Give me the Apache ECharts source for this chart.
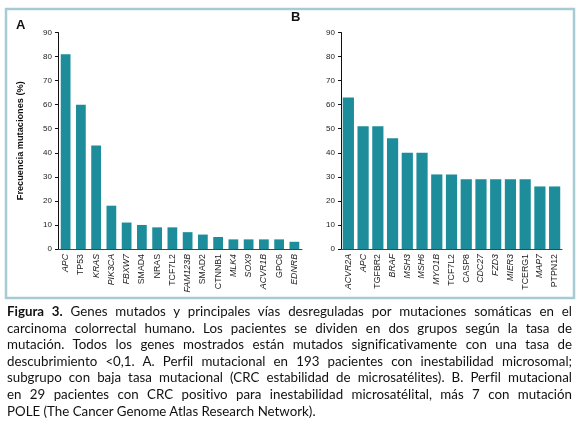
<!DOCTYPE html>
<html>
<head>
<meta charset="utf-8">
<script src="https://cdn.jsdelivr.net/npm/echarts@6/dist/echarts.min.js"></script>
<style>
  html, body { margin: 0; padding: 0; background: #fff; }
  #wrap { position: relative; width: 580px; height: 445px; }
  #chart { position: absolute; left: 0; top: 0; width: 580px; height: 445px; }
  #caption { position: absolute; left: 7px; top: 303px; width: 565px; font-family: Lato, "Open Sans", sans-serif; font-size: 13.3px; line-height: 16.6px; color: #111; font-variant-ligatures: none; }
  #caption div { text-align: justify; text-align-last: justify; white-space: nowrap; }
  #caption div.last { text-align-last: left; }
</style>
</head>
<body>
<div id="wrap">
  <div id="chart"></div>
  <div id="caption">
    <div><b>Figura 3.</b> Genes mutados y principales vías desreguladas por mutaciones somáticas en el</div>
    <div>carcinoma colorrectal humano. Los pacientes se dividen en dos grupos según la tasa de</div>
    <div>mutación. Todos los genes mostrados están mutados significativamente con una tasa de</div>
    <div>descubrimiento &lt;0,1. A. Perfil mutacional en 193 pacientes con inestabilidad microsomal;</div>
    <div>subgrupo con baja tasa mutacional (CRC estabilidad de microsatélites). B. Perfil mutacional</div>
    <div>en 29 pacientes con CRC positivo para inestabilidad microsatélital, más 7 con mutación</div>
    <div class="last">POLE (The Cancer Genome Atlas Research Network).</div>
  </div>
</div>
<script>
const genesA = ['APC','TP53','KRAS','PIK3CA','FBXW7','SMAD4','NRAS','TCF7L2','FAM123B','SMAD2','CTNNB1','MLK4','SOX9','ACVR1B','GPC6','EDNRB'];
const valuesA = [81, 60, 43, 18, 11, 10, 9, 9, 7, 6, 5, 4, 4, 4, 4, 3];
const genesB = ['ACVR2A','APC','TGFBR2','BRAF','MSH3','MSH6','MYO1B','TCF7L2','CASP8','CDC27','FZD3','MIER3','TCERG1','MAP7','PTPN12'];
const valuesB = [63, 51, 51, 46, 40, 40, 31, 31, 29, 29, 29, 29, 29, 26, 26];
const yTicks = [0, 10, 20, 30, 40, 50, 60, 70, 80, 90];
const yTitle = 'Frecuencia mutaciones (%)';
const panelLabels = ['A', 'B'];
const italicA = ['APC','KRAS','PIK3CA','FBXW7','FAM123B','MLK4','SOX9','ACVR1B','EDNRB'];
const italicB = ['ACVR2A','APC','BRAF','MSH3','MSH6','MYO1B','CDC27','FZD3','MIER3','MAP7'];

const barColor = '#1d8d9b';
const font = '"Liberation Sans", Arial, sans-serif';

function xAxis(idx, cats, italics) {
  return {
    type: 'category', gridIndex: idx, data: cats,
    axisLine: { lineStyle: { color: '#444', width: 1 } },
    axisTick: { show: false },
    axisLabel: {
      rotate: 90, margin: 5, interval: 0, color: '#222', fontFamily: font, fontSize: 8.8,
      formatter: v => (italics.indexOf(v) >= 0 ? '{i|' + v + '}' : '{n|' + v + '}'),
      rich: {
        i: { fontStyle: 'italic', fontSize: 8.8, fontFamily: font, color: '#222' },
        n: { fontStyle: 'normal', fontSize: 8.8, fontFamily: font, color: '#222' }
      }
    }
  };
}
function yAxis(idx, name) {
  return {
    type: 'value', gridIndex: idx, min: yTicks[0], max: yTicks[yTicks.length - 1], interval: 10,
    name: name, nameLocation: 'middle', nameGap: 33,
    nameTextStyle: { fontWeight: 'bold', fontSize: 9.2, fontFamily: font, color: '#111' },
    axisLine: { show: true, lineStyle: { color: '#111', width: 1 } },
    axisTick: { show: true, length: 3, lineStyle: { color: '#111' } },
    splitLine: { show: false },
    axisLabel: { color: '#222', fontFamily: font, fontSize: 8, margin: 6 }
  };
}

const chart = echarts.init(document.getElementById('chart'), null, { renderer: 'canvas' });
chart.setOption({
  animation: false,
  backgroundColor: '#fff',
  grid: [
    { left: 58, top: 32.5, width: 244, height: 216.5 },
    { left: 341, top: 32.5, width: 221, height: 216.5 }
  ],
  xAxis: [xAxis(0, genesA, italicA), xAxis(1, genesB, italicB)],
  yAxis: [yAxis(0, yTitle), yAxis(1, '')],
  series: [
    { type: 'bar', xAxisIndex: 0, yAxisIndex: 0, data: valuesA, barCategoryGap: '36%', itemStyle: { color: barColor } },
    { type: 'bar', xAxisIndex: 1, yAxisIndex: 1, data: valuesB, barCategoryGap: '24%', itemStyle: { color: barColor } }
  ],
  graphic: [
    { type: 'rect', shape: { x: 6, y: 9, width: 568, height: 289 }, style: { fill: 'none', stroke: '#a7cbd3', lineWidth: 2.5 }, silent: true },
    { type: 'text', left: 16, top: 19, style: { text: panelLabels[0], font: 'bold 13px ' + font, fill: '#111' } },
    { type: 'text', left: 291, top: 11, style: { text: panelLabels[1], font: 'bold 13px ' + font, fill: '#111' } }
  ]
});
</script>
</body>
</html>
